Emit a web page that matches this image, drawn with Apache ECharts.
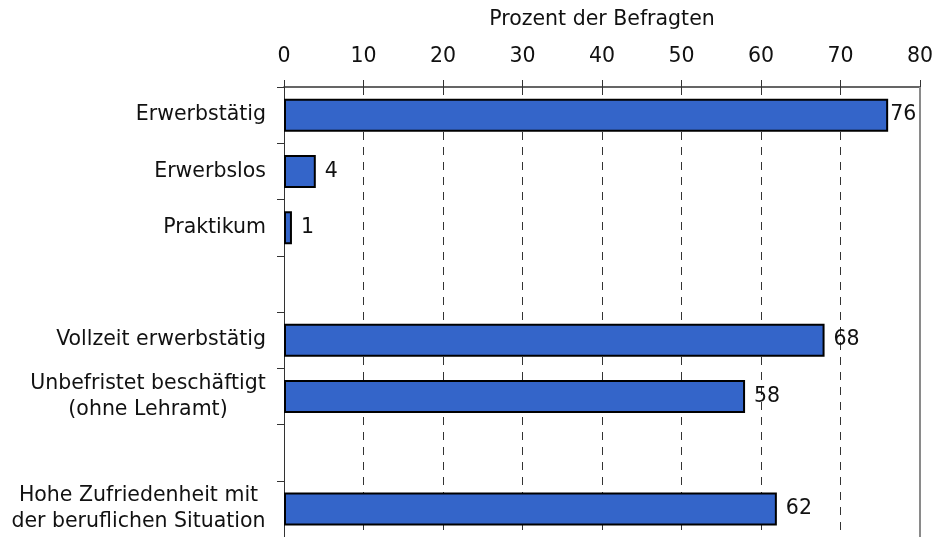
<!DOCTYPE html>
<html>
<head>
<meta charset="utf-8">
<script src="https://cdn.jsdelivr.net/npm/echarts@6/dist/echarts.min.js"></script>
<style>
  html, body { margin: 0; padding: 0; background: #fff; }
  #chart { width: 936px; height: 537px; }
</style>
</head>
<body>
<div id="chart"></div>
<script>
// data
var categories = [
  'Erwerbstätig',
  'Erwerbslos',
  'Praktikum',
  '',
  'Vollzeit erwerbstätig',
  'Unbefristet beschäftigt\n(ohne Lehramt)',
  ' ',
  'Hohe Zufriedenheit mit\nder beruflichen Situation'
];
var values = [76, 4, 1, null, 68, 58, null, 62];
var axisTitle = 'Prozent der Befragten';
var xMin = 0, xMax = 80, xStep = 10;

var FONT = '"DejaVu Sans", Verdana, sans-serif';
var FS = 20.5;

// multi-line labels: lines centred among themselves, block right-aligned
var ctx = document.createElement('canvas').getContext('2d');
ctx.font = FS + 'px ' + FONT;
var rich = {};
var labelKey = {};
categories.forEach(function (c, i) {
  if (c.indexOf('\n') < 0) return;
  var w = 0;
  c.split('\n').forEach(function (l) { w = Math.max(w, ctx.measureText(l).width); });
  rich['r' + i] = { width: Math.ceil(w), align: 'center', fontSize: FS, lineHeight: 26, fontFamily: FONT, color: '#111' };
  labelKey[c] = 'r' + i;
});

var barData = values.map(function (v) {
  if (v == null) return null;
  // label squeezed against the frame for the long bar
  if (v > 74) return { value: v, label: { distance: 2 } };
  return v;
});

var myChart = echarts.init(document.getElementById('chart'));
var option = {
  animation: false,
  textStyle: { fontFamily: FONT },
  grid: { left: 284, right: 14, top: 87, height: 452 },
  xAxis: [
    {
      type: 'value',
      position: 'top',
      min: xMin, max: xMax, interval: xStep,
      name: axisTitle,
      nameLocation: 'middle',
      nameGap: 57,
      nameTextStyle: { fontSize: FS, color: '#111', fontFamily: FONT },
      axisLine: { show: true, lineStyle: { color: '#333', width: 1.5 } },
      axisTick: { show: true, length: 7, lineStyle: { color: '#333', width: 1 } },
      axisLabel: { fontSize: FS, color: '#111', margin: 20, fontFamily: FONT },
      splitLine: { show: true, lineStyle: { color: '#333', type: [8, 7], width: 1 } }
    },
    {
      type: 'value',
      position: 'top',
      offset: 0,
      min: xMin, max: xMax, interval: xStep,
      axisLine: { show: false },
      axisTick: { show: true, inside: true, length: 7, lineStyle: { color: '#333', width: 1 } },
      axisLabel: { show: false },
      splitLine: { show: false }
    }
  ],
  yAxis: {
    type: 'category',
    inverse: true,
    data: categories,
    axisLine: { show: true, lineStyle: { color: '#333', width: 1 } },
    axisTick: { show: true, length: 7, lineStyle: { color: '#333', width: 1 } },
    axisLabel: {
      fontSize: FS, color: '#111', margin: 18, lineHeight: 26, fontFamily: FONT,
      formatter: function (v) {
        var k = labelKey[v];
        if (!k) return v;
        return v.split('\n').map(function (l) { return '{' + k + '|' + l + '}'; }).join('\n');
      },
      rich: rich
    },
    splitLine: { show: false }
  },
  series: [
    {
      type: 'bar',
      xAxisIndex: 0,
      yAxisIndex: 0,
      data: barData,
      barWidth: 33,
      itemStyle: { color: '#3465C9', borderColor: '#000', borderWidth: 2 },
      label: {
        show: true, position: 'right', distance: 9,
        fontSize: FS, color: '#111', fontFamily: FONT
      },
      // grey frame line at the right end of the scale
      markLine: {
        silent: true,
        symbol: 'none',
        label: { show: false },
        lineStyle: { color: '#8a8a8a', type: 'solid', width: 2 },
        data: [{ xAxis: xMax }]
      },
      z: 3
    }
  ]
};
myChart.setOption(option);
</script>
</body>
</html>
